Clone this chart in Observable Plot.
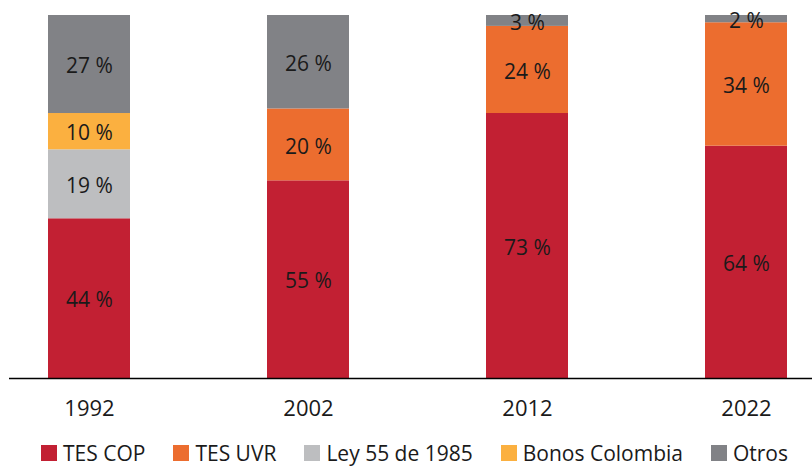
<!DOCTYPE html>
<html>
<head>
<meta charset="utf-8">
<script src="https://cdn.jsdelivr.net/npm/d3@7"></script>
<script src="https://cdn.jsdelivr.net/npm/@observablehq/plot@0.6"></script>
<style>
  html, body { margin: 0; padding: 0; background: #fff; }
  body { width: 812px; height: 468px; overflow: hidden; font-family: "Open Sans", "Noto Sans", sans-serif; }
  #legend { display: flex; align-items: center; height: 38px; padding-top: 8px; padding-left: 41px; box-sizing: border-box; font-size: 21px; line-height: 22px; color: #1a1a1a; }
  #legend .item { display: flex; align-items: center; margin-right: 28px; white-space: nowrap; }
  #legend .sw { width: 16px; height: 16px; margin-right: 6px; display: inline-block; }
</style>
</head>
<body>
<div id="chart"></div>
<div id="legend"></div>
<script>
const years = ["1992", "2002", "2012", "2022"];
const seriesNames = ["TES COP", "TES UVR", "Ley 55 de 1985", "Bonos Colombia", "Otros"];
const tesCop = [44, 55, 73, 64];
const tesUvr = [0, 20, 24, 34];
const ley55 = [19, 0, 0, 0];
const bonosColombia = [10, 0, 0, 0];
const otros = [27, 26, 3, 2];
const seriesColors = ["#C22033", "#EC6D2F", "#BDBEC0", "#FBB040", "#818286"];

const valuesBySeries = [tesCop, tesUvr, ley55, bonosColombia, otros];
const rows = [];
seriesNames.forEach((s, i) => {
  years.forEach((y, j) => {
    const v = valuesBySeries[i][j];
    if (v > 0) rows.push({year: y, series: s, value: v});
  });
});

const stackOpts = {offset: "normalize", order: seriesNames};

const chart = Plot.plot({
  width: 812,
  height: 430,
  marginTop: 15,
  marginBottom: 52,
  marginLeft: 47,
  marginRight: 24,
  style: {fontFamily: "'Open Sans', 'Noto Sans', sans-serif", background: "#fff"},
  x: {domain: years, paddingInner: 0.627, paddingOuter: 0, label: null, tickSize: 0, tickPadding: 22},
  y: {domain: [0, 1], axis: null},
  color: {domain: seriesNames, range: seriesColors},
  marks: [
    Plot.barY(rows, Plot.stackY(stackOpts, {x: "year", y: "value", fill: "series"})),
    Plot.text(rows, Plot.stackY(stackOpts, {x: "year", y: "value", z: "series", text: d => d.value + " %", fill: "#1a1a1a", fontSize: 21, dy: 2})),
    Plot.ruleY([0], {stroke: "#000", strokeWidth: 1.5, insetLeft: -38, insetRight: -24})
  ]
});
chart.querySelectorAll("g[aria-label='x-axis tick label'] text, g[aria-label='x-axis'] text").forEach(t => { t.style.fontSize = "22px"; t.setAttribute("fill", "#1a1a1a"); });
document.getElementById("chart").appendChild(chart);

const legend = document.getElementById("legend");
seriesNames.forEach((s, i) => {
  const item = document.createElement("span");
  item.className = "item";
  const sw = document.createElement("span");
  sw.className = "sw";
  sw.style.background = seriesColors[i];
  item.appendChild(sw);
  item.appendChild(document.createTextNode(s));
  legend.appendChild(item);
});
</script>
</body>
</html>
